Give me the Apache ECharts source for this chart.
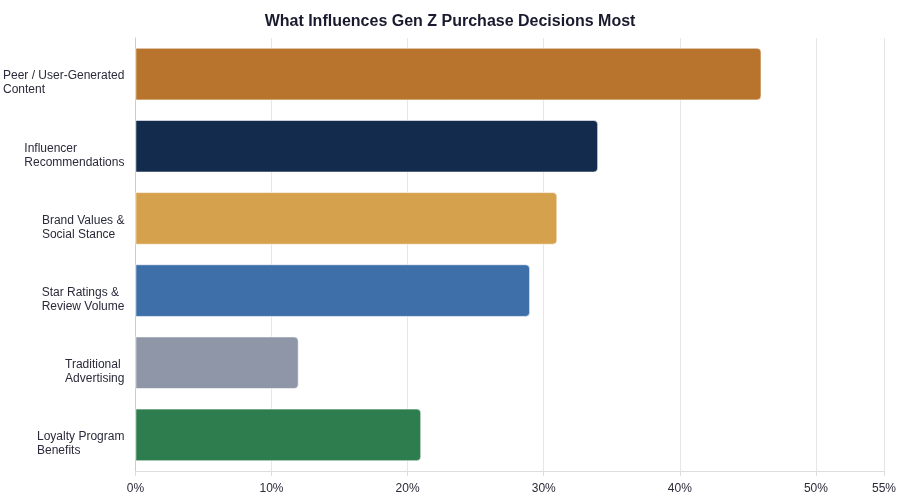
<!DOCTYPE html>
<html><head><meta charset="utf-8">
<script src="https://cdn.jsdelivr.net/npm/echarts@6/dist/echarts.min.js"></script>
<style>html,body{margin:0;padding:0;background:#fff}#c{width:900px;height:500px}</style>
</head><body><div id="c"></div>
<script>
const categories = [
  'Peer / User-Generated\nContent',
  'Influencer\nRecommendations',
  'Brand Values &\nSocial Stance',
  'Star Ratings &\nReview Volume',
  'Traditional\nAdvertising',
  'Loyalty Program\nBenefits'
];
const values = [46, 34, 31, 29, 12, 21];
const barColors = ['#B8732D', '#132B4C', '#D6A14D', '#3E6FA9', '#8E96A8', '#2E7D4F'];

const chart = echarts.init(document.getElementById('c'), null, {renderer: 'canvas'});
chart.setOption({
  animation: false,
  textStyle: {fontFamily: 'Liberation Sans, Arial, sans-serif'},
  title: {
    text: 'What Influences Gen Z Purchase Decisions Most',
    left: 'center', top: 9,
    textStyle: {fontSize: 16, fontWeight: 'bold', color: '#1a1a2e', fontFamily: 'Liberation Sans, Arial, sans-serif'}
  },
  grid: {left: 135, right: 16, top: 38, bottom: 29, containLabel: false},
  xAxis: {
    type: 'value', min: 0, max: 55, interval: 10,
    axisLine: {show: true, lineStyle: {color: '#dddddd'}},
    axisTick: {show: true, length: 5, lineStyle: {color: '#dddddd'}},
    splitLine: {show: true, lineStyle: {color: '#e6e6e6'}},
    axisLabel: {
      color: '#2a2a3a', fontSize: 12, margin: 12, showMaxLabel: true,
      formatter: v => v + '%'
    }
  },
  yAxis: {
    type: 'category', inverse: true, data: categories,
    axisLine: {show: true, lineStyle: {color: '#cccccc'}},
    axisTick: {show: false},
    axisLabel: {
      color: '#2a2a3a', fontSize: 12, margin: 11,
      padding: [18, 0, 0, 0],
      formatter: v => v.split('\n').map(s => '{a|' + s + '}').join('\n'),
      rich: {a: {align: 'left', fontSize: 12, color: '#2a2a3a', lineHeight: 14}}
    }
  },
  series: [{
    type: 'bar',
    data: values.map((v, i) => ({value: v, itemStyle: {color: barColors[i]}})),
    barWidth: '73%',
    itemStyle: {borderRadius: [0, 4, 4, 0], borderColor: 'rgba(255,255,255,0.6)', borderWidth: 1}
  }]
});
</script></body></html>
